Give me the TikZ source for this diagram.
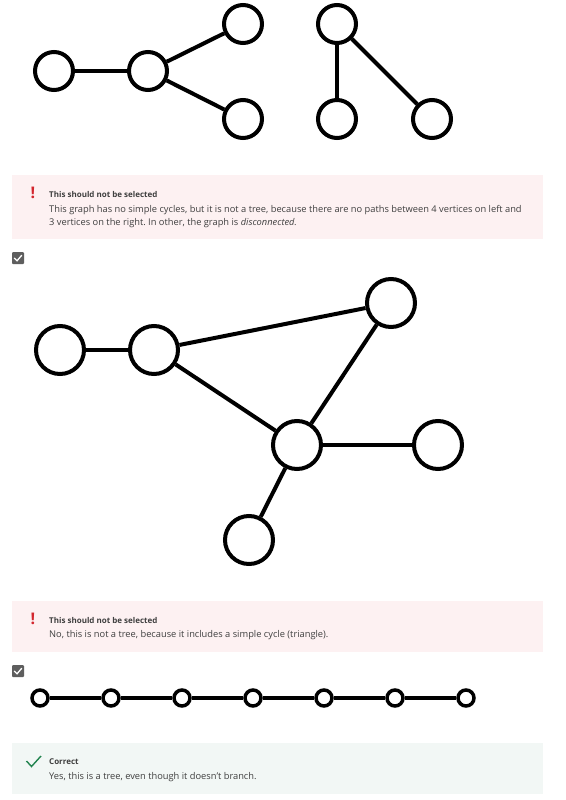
\documentclass[tikz,border=0pt]{standalone}
\usepackage{fontspec}
\setmainfont{Open Sans}
\usepackage{xcolor}
\frenchspacing
\definecolor{wrongbg}{HTML}{FDF1F2}
\definecolor{rightbg}{HTML}{F2F7F5}
\definecolor{wrongred}{HTML}{D3262E}
\definecolor{rightgreen}{HTML}{22844F}
\definecolor{boxgray}{HTML}{5E5E5E}
\definecolor{textgray}{HTML}{3F3F3F}
\usetikzlibrary{positioning}
\tikzset{
	vertex/.style={circle, draw=black, fill=white, line width=4pt, minimum size=#1, inner sep=0pt},
	vertex/.default=38pt,
	link/.style={line width=4pt},
	warnmark/.style={text=wrongred, inner sep=0pt, font=\fontsize{16pt}{16pt}\selectfont\bfseries},
	headline/.style={anchor=west, inner sep=0pt, text=textgray, font=\fontsize{8pt}{9pt}\selectfont\bfseries},
	remark/.style={anchor=north west, inner sep=0pt, align=left, text=textgray, font=\fontsize{9.3pt}{13pt}\selectfont},
	checkbox/.style={rectangle, rounded corners=1pt, fill=boxgray, minimum size=12pt, inner sep=0pt}
}

\begin{document}
\begin{tikzpicture}[x=1pt, y=-1pt]
	\useasboundingbox (0,0) rectangle (565,800);
	\fill[white] (0,0) rectangle (565,800);

	% First graph: two components
	\node[vertex] (a1) at (54,71) {};
	\node[vertex] (a2) at (148,71) {};
	\node[vertex] (a3) at (243,24) {};
	\node[vertex] (a4) at (243,119) {};
	\node[vertex] (b1) at (337,24) {};
	\node[vertex] (b2) at (337,119) {};
	\node[vertex] (b3) at (432,119) {};
	\draw[link] (a1) -- (a2);
	\draw[link] (a2) -- (a3);
	\draw[link] (a2) -- (a4);
	\draw[link] (b1) -- (b2);
	\draw[link] (b1) -- (b3);

	% Feedback for the first graph
	\fill[wrongbg] (12,175) rectangle (543,239);
	\node[warnmark] (warn1) at (33,193) {!};
	\node[headline] (head1) at (49,194) {This should not be selected};
	\node[remark] (text1) at (49,205) {This graph has no simple cycles, but it is not a tree, because there are no paths between 4 vertices on left and\\3 vertices on the right. In other, the graph is \textit{disconnected.}};

	% Second graph: with a triangle
	\node[checkbox] (cb1) at (18,258) {};
	\draw[white, line width=1.3pt] (14.2,258) -- (17,260.8) -- (21.8,255.2);
	\node[vertex=48pt] (c1) at (60,350) {};
	\node[vertex=48pt] (c2) at (154,350) {};
	\node[vertex=48pt] (c3) at (391,303) {};
	\node[vertex=48pt] (c4) at (297,445) {};
	\node[vertex=48pt] (c5) at (438,445) {};
	\node[vertex=48pt] (c6) at (249,540) {};
	\draw[link] (c1) -- (c2);
	\draw[link] (c2) -- (c3);
	\draw[link] (c2) -- (c4);
	\draw[link] (c3) -- (c4);
	\draw[link] (c4) -- (c5);
	\draw[link] (c4) -- (c6);

	% Feedback for the second graph
	\fill[wrongbg] (12,601) rectangle (543,652);
	\node[warnmark] (warn2) at (33,619) {!};
	\node[headline] (head2) at (49,620) {This should not be selected};
	\node[remark] (text2) at (49,630) {No, this is not a tree, because it includes a simple cycle (triangle).};

	% Third graph: a path
	\node[checkbox] (cb2) at (18,671) {};
	\draw[white, line width=1.3pt] (14.2,671) -- (17,673.8) -- (21.8,668.2);
	\foreach \i/\x in {1/40, 2/111, 3/182, 4/253, 5/324, 6/395, 7/466}
		\node[vertex=16pt, line width=3.5pt] (p\i) at (\x,698) {};
	\foreach \i [evaluate=\i as \j using int(\i+1)] in {1,...,6}
		\draw[line width=3.5pt] (p\i) -- (p\j);

	% Feedback for the third graph
	\fill[rightbg] (12,743) rectangle (543,794);
	\draw[rightgreen, line width=1.4pt] (26.5,761) -- (31.5,766.5) -- (41,756);
	\node[headline] (head3) at (49,762) {Correct};
	\node[remark] (text3) at (49,772) {Yes, this is a tree, even though it doesn't branch.};
\end{tikzpicture}
\end{document}
